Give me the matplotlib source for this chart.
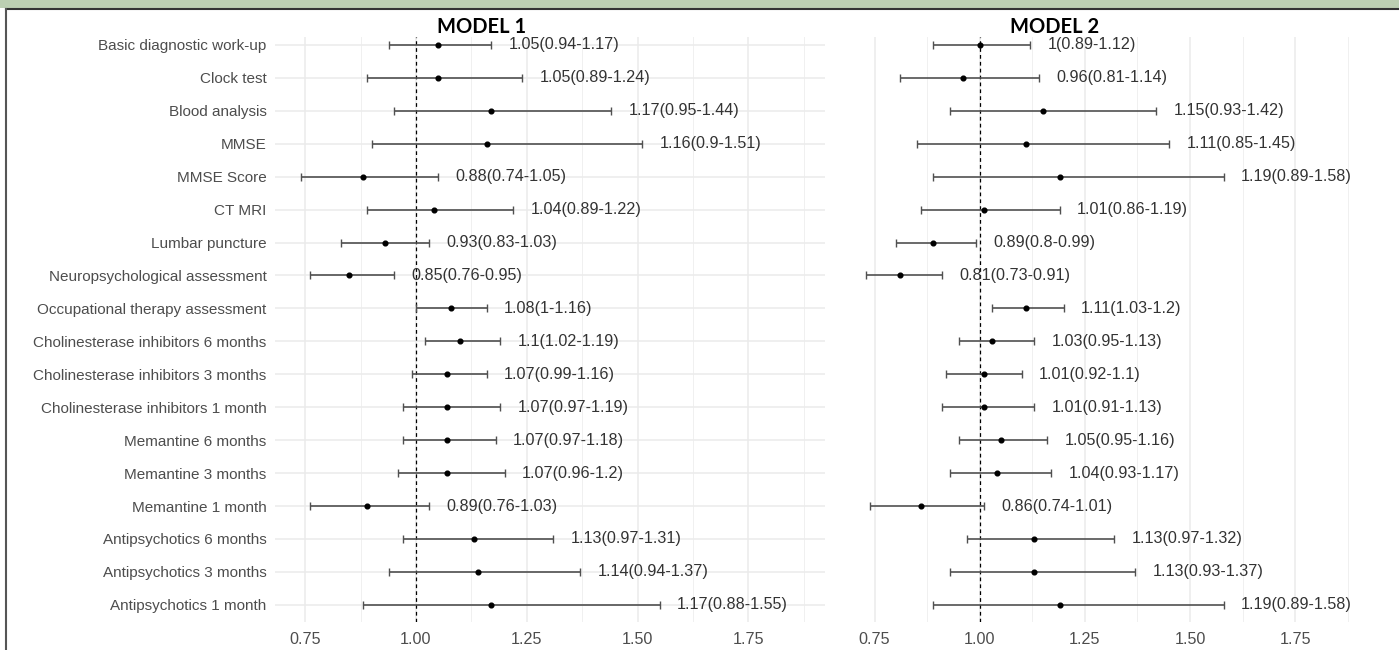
import matplotlib
matplotlib.use("Agg")
import matplotlib.pyplot as plt
from matplotlib.patches import Rectangle
from matplotlib.lines import Line2D
import numpy as np

plt.rcParams["font.family"] = ["Liberation Sans", "DejaVu Sans"]

labels = ["Basic diagnostic work-up", "Clock test", "Blood analysis", "MMSE", "MMSE Score",
          "CT MRI", "Lumbar puncture", "Neuropsychological assessment",
          "Occupational therapy assessment", "Cholinesterase inhibitors 6 months",
          "Cholinesterase inhibitors 3 months", "Cholinesterase inhibitors 1 month",
          "Memantine 6 months", "Memantine 3 months", "Memantine 1 month",
          "Antipsychotics 6 months", "Antipsychotics 3 months", "Antipsychotics 1 month"]

m1_or = [1.05, 1.05, 1.17, 1.16, 0.88, 1.04, 0.93, 0.85, 1.08, 1.1, 1.07, 1.07, 1.07, 1.07, 0.89, 1.13, 1.14, 1.17]
m1_lo = [0.94, 0.89, 0.95, 0.9, 0.74, 0.89, 0.83, 0.76, 1, 1.02, 0.99, 0.97, 0.97, 0.96, 0.76, 0.97, 0.94, 0.88]
m1_hi = [1.17, 1.24, 1.44, 1.51, 1.05, 1.22, 1.03, 0.95, 1.16, 1.19, 1.16, 1.19, 1.18, 1.2, 1.03, 1.31, 1.37, 1.55]

m2_or = [1, 0.96, 1.15, 1.11, 1.19, 1.01, 0.89, 0.81, 1.11, 1.03, 1.01, 1.01, 1.05, 1.04, 0.86, 1.13, 1.13, 1.19]
m2_lo = [0.89, 0.81, 0.93, 0.85, 0.89, 0.86, 0.8, 0.73, 1.03, 0.95, 0.92, 0.91, 0.95, 0.93, 0.74, 0.97, 0.93, 0.89]
m2_hi = [1.12, 1.14, 1.42, 1.45, 1.58, 1.19, 0.99, 0.91, 1.2, 1.13, 1.1, 1.13, 1.16, 1.17, 1.01, 1.32, 1.37, 1.58]

xticks = [0.75, 1.00, 1.25, 1.50, 1.75]
minor = [0.625, 0.875, 1.125, 1.375, 1.625, 1.875]

W, H = 1399, 650
fig = plt.figure(figsize=(W / 100, H / 100), dpi=100)

# page decoration: green band on top, dark frame
fig.patches.append(Rectangle((0, 1 - 8 / H), 1, 8 / H, transform=fig.transFigure,
                             facecolor="#bccfb2", edgecolor="none"))
fig.lines.append(Line2D([6 / W, 1], [1 - 9 / H] * 2, transform=fig.transFigure, color="#333333", lw=1.5))
fig.lines.append(Line2D([6 / W] * 2, [0, 1 - 9 / H], transform=fig.transFigure, color="#555555", lw=1.5))

bottom = 1 - 622 / H
height = (622 - 37) / H
ax1 = fig.add_axes([275 / W, bottom, 550 / W, height])
ax2 = fig.add_axes([846 / W, bottom, 522 / W, height])

y = np.arange(len(labels), 0, -1)


def fmt(v):
    return f"{v:g}"


def draw(ax, orr, lo, hi, ygrid):
    orr, lo, hi = map(np.array, (orr, lo, hi))
    ax.set_xlim(0.682, 1.923)
    ax.set_ylim(0.48, 18.24)
    ax.set_xticks(xticks)
    ax.set_xticks([m for m in minor if 0.682 < m < 1.923], minor=True)
    ax.set_xticklabels([f"{t:.2f}" for t in xticks])
    ax.grid(True, which="major", axis="x", color="#ebebeb", lw=1.1)
    ax.grid(True, which="minor", axis="x", color="#f0f0f0", lw=0.7)
    if ygrid:
        ax.set_yticks(y)
        ax.set_yticklabels(labels)
        ax.grid(True, which="major", axis="y", color="#ebebeb", lw=1.1)
    else:
        ax.set_yticks([])
    ax.set_axisbelow(True)
    for s in ax.spines.values():
        s.set_visible(False)
    ax.tick_params(axis="both", which="both", length=0, labelcolor="#4d4d4d")
    ax.tick_params(axis="x", pad=7, labelsize=11.6)
    ax.tick_params(axis="y", pad=6, labelsize=11)
    ax.axvline(1.0, color="black", lw=0.9, ls=(0, (3, 2.5)), zorder=2)
    ax.errorbar(orr, y, xerr=[orr - lo, hi - orr], fmt="none", ecolor="#505050",
                elinewidth=1.2, capsize=3.2, capthick=1.0, zorder=3)
    ax.plot(orr, y, "o", color="black", ms=3.4, zorder=4)
    for yi, o, l, h in zip(y, orr, lo, hi):
        ax.annotate(f"{fmt(o)}({fmt(l)}-{fmt(h)})", xy=(h, yi), xytext=(12.5, 0),
                    textcoords="offset points", ha="left", va="center",
                    fontsize=11.6, color="#333333")


draw(ax1, m1_or, m1_lo, m1_hi, True)
draw(ax2, m2_or, m2_lo, m2_hi, False)

fig.text(482 / W, 1 - 27 / H, "MODEL 1", ha="center", va="center", fontsize=14.5,
         fontweight="bold", family=["Lato", "DejaVu Sans"], color="black")
fig.text(1055 / W, 1 - 27 / H, "MODEL 2", ha="center", va="center", fontsize=14.5,
         fontweight="bold", family=["Lato", "DejaVu Sans"], color="black")

fig.savefig("out.png", dpi=100, facecolor="white")
